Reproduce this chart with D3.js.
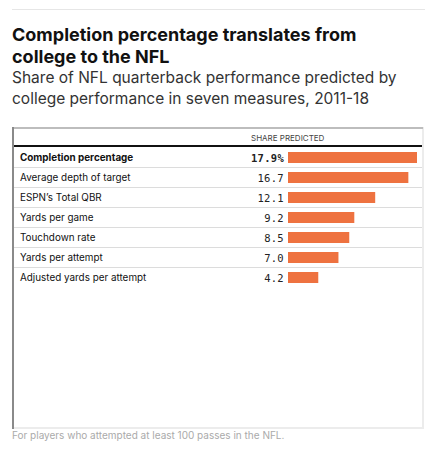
<!DOCTYPE html>
<html><head><meta charset="utf-8">
<script src="https://cdn.jsdelivr.net/npm/d3@7"></script>
<style>
body{margin:0;background:#fff;}
svg{display:block;}
</style></head>
<body>
<svg id="chart" width="437" height="450"></svg>
<script>
const categories = ["Completion percentage","Average depth of target","ESPN’s Total QBR","Yards per game","Touchdown rate","Yards per attempt","Adjusted yards per attempt"];
const values = [17.9,16.7,12.1,9.2,8.5,7.0,4.2];
const valueLabels = ["17.9%","16.7","12.1","9.2","8.5","7.0","4.2"];
const title = ["Completion percentage translates from","college to the NFL"];
const subtitle = ["Share of NFL quarterback performance predicted by","college performance in seven measures, 2011-18"];
const header = "SHARE PREDICTED";
const note = "For players who attempted at least 100 passes in the NFL.";

const svg = d3.select("#chart");
const sans = "Inter, 'Helvetica Neue', Arial, sans-serif";
const mono = "'DejaVu Sans Mono', 'Liberation Mono', monospace";

svg.append("line").attr("x1",12).attr("x2",425).attr("y1",9.5).attr("y2",9.5).attr("stroke","#e6e6e6");

svg.append("g").selectAll("text").data(title).join("text")
  .attr("x",12).attr("y",(d,i)=>41+i*22)
  .attr("font-family",sans).attr("font-weight",700).attr("font-size",18).attr("fill","#111").text(d=>d);
svg.append("g").selectAll("text").data(subtitle).join("text")
  .attr("x",12).attr("y",(d,i)=>83+i*21)
  .attr("font-family",sans).attr("font-size",15.5).attr("fill","#333").text(d=>d);

// box
const bx0=13, bx1=423, by0=128, by1=428;
svg.append("rect").attr("x",bx0).attr("y",by0).attr("width",bx1-bx0).attr("height",by1-by0)
  .attr("fill","#fff").attr("stroke","#ececec").attr("stroke-width",2);
svg.append("line").attr("x1",bx0).attr("x2",bx1).attr("y1",by0).attr("y2",by0).attr("stroke","#bdbdbd").attr("stroke-width",2);
svg.append("line").attr("x1",bx0).attr("x2",bx0).attr("y1",by0-1).attr("y2",by1+1).attr("stroke","#8a8a8a").attr("stroke-width",2);

svg.append("text").attr("x",251).attr("y",141).attr("font-family",sans).attr("font-size",8)
  .attr("fill","#444").text(header);
svg.append("line").attr("x1",bx0+1).attr("x2",422).attr("y1",146).attr("y2",146).attr("stroke","#111").attr("stroke-width",2);

const y = d3.scaleBand().domain(categories).range([147,287]).paddingInner(0);
const x = d3.scaleLinear().domain([0,17.9]).range([288,417]);

const rows = svg.append("g").selectAll("g").data(categories).join("g")
  .attr("transform",d=>`translate(0,${y(d)})`);
rows.filter((d,i)=>i<categories.length-1).append("line")
  .attr("x1",bx0+1).attr("x2",422).attr("y1",y.bandwidth()+0.5).attr("y2",y.bandwidth()+0.5).attr("stroke","#dcdcdc");
rows.append("text").attr("x",20).attr("y",y.bandwidth()/2+4)
  .attr("font-family",sans).attr("font-size",9.9).attr("font-weight",(d,i)=>i===0?700:400)
  .attr("fill","#111").text(d=>d);
rows.append("text").attr("x",284).attr("y",y.bandwidth()/2+4.5).attr("text-anchor","end")
  .attr("font-family",mono).attr("font-size",10.5).attr("font-weight",(d,i)=>i===0?700:400)
  .attr("letter-spacing",0.3)
  .attr("fill","#222").text((d,i)=>valueLabels[i]);
rows.append("rect").attr("x",x(0)).attr("y",y.bandwidth()/2-5)
  .attr("width",(d,i)=>x(values[i])-x(0)).attr("height",11).attr("fill","#ee7240");

svg.append("text").attr("x",12).attr("y",439).attr("font-family",sans).attr("font-size",10)
  .attr("fill","#aaa").text(note);
</script>
</body></html>
